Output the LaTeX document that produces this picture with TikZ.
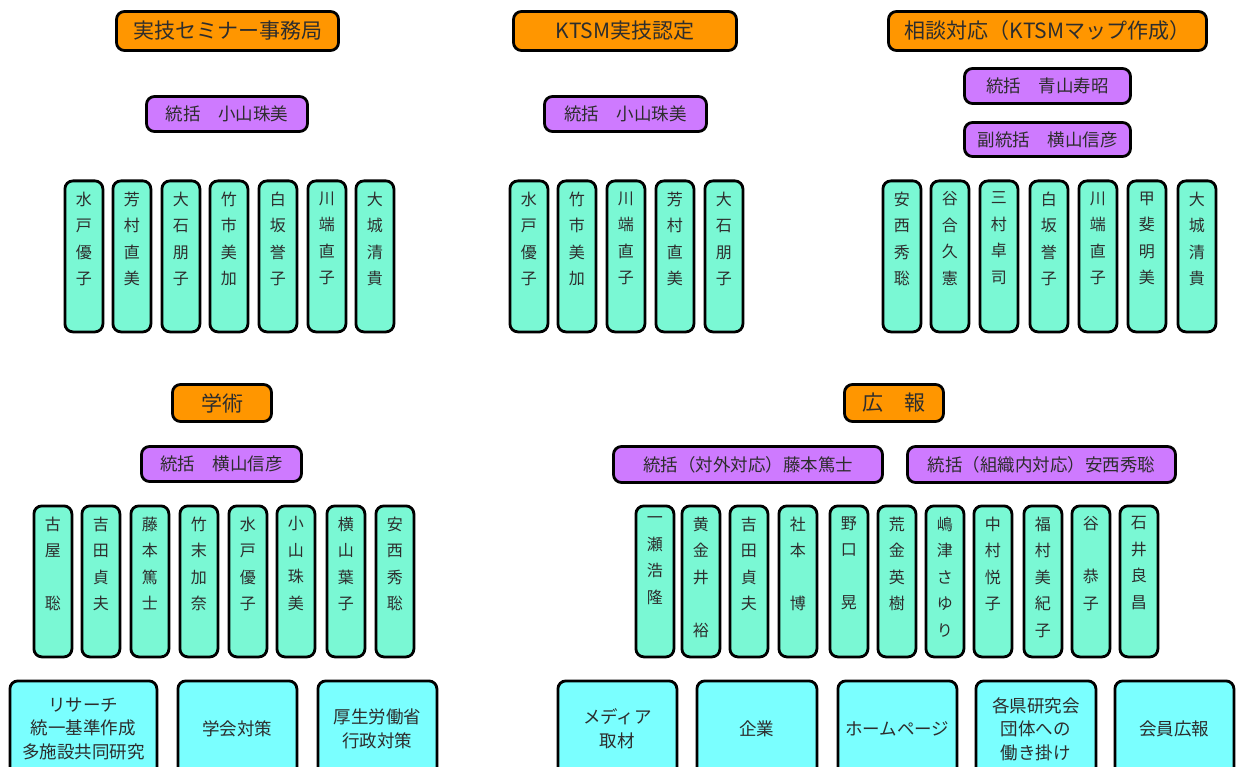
\documentclass[tikz,border=0pt]{standalone}
\usepackage{fontspec}
\setmainfont{Noto Sans CJK JP}
\definecolor{orng}{RGB}{255,150,0}
\definecolor{purp}{RGB}{206,122,255}
\definecolor{mint}{RGB}{122,248,212}
\definecolor{cyanbox}{RGB}{122,255,255}
\definecolor{txt}{RGB}{45,45,45}
\tikzset{
  base/.style={draw=black, line width=2.8pt, rounded corners=8pt, inner sep=0pt, text=txt},
  headbox/.style={base, fill=orng, font=\fontsize{21}{25}\selectfont},
  leadbox/.style={base, fill=purp, font=\fontsize{17.5}{21}\selectfont},
  namebox/.style={base, fill=mint, anchor=north west, minimum width=38pt, minimum height=151pt},
  nametext/.style={inner sep=0pt, anchor=north, align=center, text=txt, font=\fontsize{16}{26.5}\selectfont},
  taskbox/.style={base, fill=cyanbox, anchor=north west, align=center, minimum height=96pt, font=\fontsize{17.5}{23.5}\selectfont},
}
\newcommand\nm[4]{%
  \node[namebox] (#1) at (#2+1.5,#3+1.5) {};
  \node[nametext] (#1t) at ([yshift=-12pt]#1.north) {#4};}
\begin{document}
\begin{tikzpicture}[x=1pt,y=-1pt]
\useasboundingbox (0,0) rectangle (1236,767);
\clip (0,0) rectangle (1236,767);
\fill[white] (0,0) rectangle (1236,767);

% ---- heads
\node[headbox, minimum width=222pt, minimum height=39pt] (h1) at (227.5,31) {実技セミナー事務局};
\node[headbox, minimum width=223pt, minimum height=39pt] (h2) at (625,31) {KTSM実技認定};
\node[headbox, minimum width=318pt, minimum height=39pt] (h3) at (1047.5,31) {相談対応（KTSMマップ作成）};
\node[headbox, minimum width=99pt, minimum height=37pt] (h4) at (222,403) {学術};
\node[headbox, minimum width=99pt, minimum height=37pt] (h5) at (894,403) {広　報};

% ---- leaders
\node[leadbox, minimum width=161pt, minimum height=35pt] (l1) at (227,114) {統括　小山珠美};
\node[leadbox, minimum width=162pt, minimum height=35pt] (l2) at (625.5,114) {統括　小山珠美};
\node[leadbox, minimum width=166pt, minimum height=35pt] (l3) at (1047.5,86) {統括　青山寿昭};
\node[leadbox, minimum width=166pt, minimum height=34pt] (l4) at (1047.5,139.5) {副統括　横山信彦};
\node[leadbox, minimum width=160pt, minimum height=35pt] (l5) at (221.5,464) {統括　横山信彦};
\node[leadbox, minimum width=269pt, minimum height=36pt] (l6) at (748,464.5) {統括（対外対応）藤本篤士};
\node[leadbox, minimum width=268pt, minimum height=36pt] (l7) at (1041.5,464.5) {統括（組織内対応）安西秀聡};

% ---- names: 実技セミナー事務局
\nm{a1}{62}{178}{水\\戸\\優\\子}
\nm{a2}{110}{178}{芳\\村\\直\\美}
\nm{a3}{159}{178}{大\\石\\朋\\子}
\nm{a4}{207}{178}{竹\\市\\美\\加}
\nm{a5}{256}{178}{白\\坂\\誉\\子}
\nm{a6}{305}{178}{川\\端\\直\\子}
\nm{a7}{353}{178}{大\\城\\清\\貴}

% ---- names: KTSM実技認定
\nm{b1}{507}{178}{水\\戸\\優\\子}
\nm{b2}{555}{178}{竹\\市\\美\\加}
\nm{b3}{604}{178}{川\\端\\直\\子}
\nm{b4}{653}{178}{芳\\村\\直\\美}
\nm{b5}{702}{178}{大\\石\\朋\\子}

% ---- names: 相談対応
\nm{c1}{880}{178}{安\\西\\秀\\聡}
\nm{c2}{928}{178}{谷\\合\\久\\憲}
\nm{c3}{977}{178}{三\\村\\卓\\司}
\nm{c4}{1027}{178}{白\\坂\\誉\\子}
\nm{c5}{1076}{178}{川\\端\\直\\子}
\nm{c6}{1125}{178}{甲\\斐\\明\\美}
\nm{c7}{1175}{178}{大\\城\\清\\貴}

% ---- names: 学術
\nm{d1}{31}{503}{古\\屋\\\mbox{}\\聡}
\nm{d2}{79}{503}{吉\\田\\貞\\夫}
\nm{d3}{128}{503}{藤\\本\\篤\\士}
\nm{d4}{177}{503}{竹\\末\\加\\奈}
\nm{d5}{226}{503}{水\\戸\\優\\子}
\nm{d6}{274}{503}{小\\山\\珠\\美}
\nm{d7}{324}{503}{横\\山\\葉\\子}
\nm{d8}{373}{503}{安\\西\\秀\\聡}

% ---- names: 広報
\nm{e1}{633}{503}{一\\瀬\\浩\\隆}
\nm{e2}{679}{503}{黄\\金\\井\\\mbox{}\\裕}
\nm{e3}{727}{503}{吉\\田\\貞\\夫}
\nm{e4}{776}{503}{社\\本\\\mbox{}\\博}
\nm{e5}{827}{503}{野\\口\\\mbox{}\\晃}
\nm{e6}{875}{503}{荒\\金\\英\\樹}
\nm{e7}{923}{503}{嶋\\津\\さ\\ゆ\\り}
\nm{e8}{971}{503}{中\\村\\悦\\子}
\nm{e9}{1021}{503}{福\\村\\美\\紀\\子}
\nm{e10}{1069}{503}{谷\\\mbox{}\\恭\\子}
\nm{e11}{1117}{503}{石\\井\\良\\昌}

% ---- task boxes
\node[taskbox, minimum width=147pt] (t1) at (8.5,679.5) {リサーチ\\統一基準作成\\多施設共同研究};
\node[taskbox, minimum width=119pt] (t2) at (176.5,679.5) {学会対策};
\node[taskbox, minimum width=119pt] (t3) at (316.5,679.5) {厚生労働省\\行政対策};
\node[taskbox, minimum width=119pt] (t4) at (556.5,679.5) {メディア\\取材};
\node[taskbox, minimum width=120pt] (t5) at (695.5,679.5) {企業};
\node[taskbox, minimum width=119pt] (t6) at (836.5,679.5) {ホームページ};
\node[taskbox, minimum width=120pt] (t7) at (974.5,679.5) {各県研究会\\団体への\\働き掛け};
\node[taskbox, minimum width=119pt] (t8) at (1113.5,679.5) {会員広報};
\end{tikzpicture}
\end{document}
